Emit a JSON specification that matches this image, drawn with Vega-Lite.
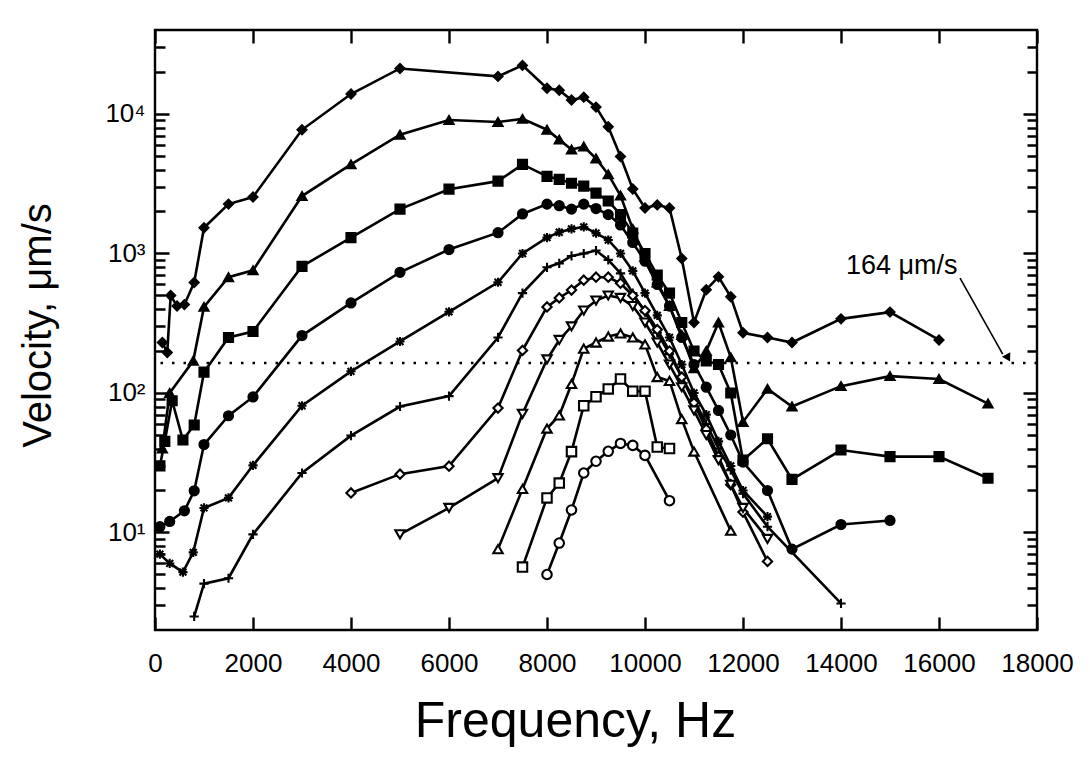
{
  "$schema": "https://vega.github.io/schema/vega-lite/v6.json",
  "width": 882,
  "height": 600,
  "autosize": "none",
  "padding": {"left": 155, "top": 30, "right": 53, "bottom": 134},
  "background": "white",
  "config": {
    "view": {"stroke": "black", "strokeWidth": 2.4},
    "font": "Liberation Sans",
    "axis": {"domain": false, "ticks": false, "tickSize": 0, "gridColor": "black", "gridWidth": 2.4, "gridOpacity": 1, "labelColor": "black", "titleColor": "black", "labelFont": "Liberation Sans", "titleFont": "Liberation Sans", "titleFontWeight": "normal"}
  },
  "datasets": {
    "curves": [
      {"s": "s1", "f": 150, "v": 230}, {"s": "s1", "f": 250, "v": 195}, {"s": "s1", "f": 320, "v": 500}, {"s": "s1", "f": 450, "v": 420}, {"s": "s1", "f": 600, "v": 430}, {"s": "s1", "f": 800, "v": 620}, {"s": "s1", "f": 1000, "v": 1530}, {"s": "s1", "f": 1500, "v": 2260}, {"s": "s1", "f": 2000, "v": 2540}, {"s": "s1", "f": 3000, "v": 7700}, {"s": "s1", "f": 4000, "v": 13900}, {"s": "s1", "f": 5000, "v": 21200}, {"s": "s1", "f": 7000, "v": 18600}, {"s": "s1", "f": 7500, "v": 22300}, {"s": "s1", "f": 8000, "v": 15300}, {"s": "s1", "f": 8250, "v": 14800}, {"s": "s1", "f": 8500, "v": 12600}, {"s": "s1", "f": 8750, "v": 13200}, {"s": "s1", "f": 9000, "v": 11200}, {"s": "s1", "f": 9250, "v": 8100}, {"s": "s1", "f": 9500, "v": 4950}, {"s": "s1", "f": 9750, "v": 2900}, {"s": "s1", "f": 10000, "v": 2120}, {"s": "s1", "f": 10250, "v": 2230}, {"s": "s1", "f": 10500, "v": 2120}, {"s": "s1", "f": 10750, "v": 920}, {"s": "s1", "f": 11000, "v": 320}, {"s": "s1", "f": 11250, "v": 550}, {"s": "s1", "f": 11500, "v": 680}, {"s": "s1", "f": 11750, "v": 490}, {"s": "s1", "f": 12000, "v": 270}, {"s": "s1", "f": 12500, "v": 250}, {"s": "s1", "f": 13000, "v": 230}, {"s": "s1", "f": 14000, "v": 340}, {"s": "s1", "f": 15000, "v": 380}, {"s": "s1", "f": 16000, "v": 240},
      {"s": "s2", "f": 150, "v": 40}, {"s": "s2", "f": 300, "v": 100}, {"s": "s2", "f": 780, "v": 170}, {"s": "s2", "f": 1000, "v": 414}, {"s": "s2", "f": 1500, "v": 676}, {"s": "s2", "f": 2000, "v": 757}, {"s": "s2", "f": 3000, "v": 2580}, {"s": "s2", "f": 4000, "v": 4350}, {"s": "s2", "f": 5000, "v": 7100}, {"s": "s2", "f": 6000, "v": 9060}, {"s": "s2", "f": 7000, "v": 8770}, {"s": "s2", "f": 7500, "v": 9220}, {"s": "s2", "f": 8000, "v": 7710}, {"s": "s2", "f": 8250, "v": 6550}, {"s": "s2", "f": 8500, "v": 5560}, {"s": "s2", "f": 8750, "v": 5840}, {"s": "s2", "f": 9000, "v": 4800}, {"s": "s2", "f": 9250, "v": 3690}, {"s": "s2", "f": 9500, "v": 2600}, {"s": "s2", "f": 9750, "v": 1500}, {"s": "s2", "f": 10000, "v": 950}, {"s": "s2", "f": 10250, "v": 620}, {"s": "s2", "f": 10500, "v": 420}, {"s": "s2", "f": 10750, "v": 260}, {"s": "s2", "f": 11000, "v": 150}, {"s": "s2", "f": 11250, "v": 200}, {"s": "s2", "f": 11500, "v": 320}, {"s": "s2", "f": 11750, "v": 180}, {"s": "s2", "f": 12000, "v": 62}, {"s": "s2", "f": 12500, "v": 107}, {"s": "s2", "f": 13000, "v": 80}, {"s": "s2", "f": 14000, "v": 112}, {"s": "s2", "f": 15000, "v": 132}, {"s": "s2", "f": 16000, "v": 126}, {"s": "s2", "f": 17000, "v": 84},
      {"s": "s3", "f": 100, "v": 30}, {"s": "s3", "f": 200, "v": 45}, {"s": "s3", "f": 350, "v": 88}, {"s": "s3", "f": 570, "v": 46}, {"s": "s3", "f": 800, "v": 59}, {"s": "s3", "f": 1000, "v": 141}, {"s": "s3", "f": 1500, "v": 250}, {"s": "s3", "f": 2000, "v": 276}, {"s": "s3", "f": 3000, "v": 809}, {"s": "s3", "f": 4000, "v": 1300}, {"s": "s3", "f": 5000, "v": 2080}, {"s": "s3", "f": 6000, "v": 2890}, {"s": "s3", "f": 7000, "v": 3300}, {"s": "s3", "f": 7500, "v": 4350}, {"s": "s3", "f": 8000, "v": 3570}, {"s": "s3", "f": 8250, "v": 3400}, {"s": "s3", "f": 8500, "v": 3190}, {"s": "s3", "f": 8750, "v": 3040}, {"s": "s3", "f": 9000, "v": 2710}, {"s": "s3", "f": 9250, "v": 2380}, {"s": "s3", "f": 9500, "v": 1900}, {"s": "s3", "f": 9750, "v": 1400}, {"s": "s3", "f": 10000, "v": 1000}, {"s": "s3", "f": 10250, "v": 700}, {"s": "s3", "f": 10500, "v": 520}, {"s": "s3", "f": 10750, "v": 320}, {"s": "s3", "f": 11000, "v": 200}, {"s": "s3", "f": 11250, "v": 170}, {"s": "s3", "f": 11500, "v": 160}, {"s": "s3", "f": 11750, "v": 100}, {"s": "s3", "f": 12000, "v": 33}, {"s": "s3", "f": 12500, "v": 47}, {"s": "s3", "f": 13000, "v": 24}, {"s": "s3", "f": 14000, "v": 39}, {"s": "s3", "f": 15000, "v": 35}, {"s": "s3", "f": 16000, "v": 35}, {"s": "s3", "f": 17000, "v": 24.5},
      {"s": "s4", "f": 100, "v": 11}, {"s": "s4", "f": 300, "v": 12}, {"s": "s4", "f": 600, "v": 14.3}, {"s": "s4", "f": 800, "v": 19.9}, {"s": "s4", "f": 1000, "v": 42.7}, {"s": "s4", "f": 1500, "v": 68.7}, {"s": "s4", "f": 2000, "v": 93.7}, {"s": "s4", "f": 3000, "v": 258}, {"s": "s4", "f": 4000, "v": 442}, {"s": "s4", "f": 5000, "v": 733}, {"s": "s4", "f": 6000, "v": 1067}, {"s": "s4", "f": 7000, "v": 1410}, {"s": "s4", "f": 7500, "v": 1920}, {"s": "s4", "f": 8000, "v": 2260}, {"s": "s4", "f": 8250, "v": 2200}, {"s": "s4", "f": 8500, "v": 2080}, {"s": "s4", "f": 8750, "v": 2260}, {"s": "s4", "f": 9000, "v": 2100}, {"s": "s4", "f": 9250, "v": 1900}, {"s": "s4", "f": 9500, "v": 1600}, {"s": "s4", "f": 9750, "v": 1200}, {"s": "s4", "f": 10000, "v": 880}, {"s": "s4", "f": 10250, "v": 600}, {"s": "s4", "f": 10500, "v": 420}, {"s": "s4", "f": 10750, "v": 250}, {"s": "s4", "f": 11000, "v": 160}, {"s": "s4", "f": 11250, "v": 110}, {"s": "s4", "f": 11500, "v": 75}, {"s": "s4", "f": 11750, "v": 50}, {"s": "s4", "f": 12000, "v": 32}, {"s": "s4", "f": 12500, "v": 20}, {"s": "s4", "f": 13000, "v": 7.6}, {"s": "s4", "f": 14000, "v": 11.4}, {"s": "s4", "f": 15000, "v": 12.2},
      {"s": "s5", "f": 100, "v": 7}, {"s": "s5", "f": 300, "v": 6}, {"s": "s5", "f": 570, "v": 5.2}, {"s": "s5", "f": 780, "v": 7.2}, {"s": "s5", "f": 1000, "v": 15}, {"s": "s5", "f": 1500, "v": 17.7}, {"s": "s5", "f": 2000, "v": 30.3}, {"s": "s5", "f": 3000, "v": 81}, {"s": "s5", "f": 4000, "v": 143}, {"s": "s5", "f": 5000, "v": 234}, {"s": "s5", "f": 6000, "v": 382}, {"s": "s5", "f": 7000, "v": 622}, {"s": "s5", "f": 7500, "v": 1000}, {"s": "s5", "f": 8000, "v": 1300}, {"s": "s5", "f": 8250, "v": 1420}, {"s": "s5", "f": 8500, "v": 1500}, {"s": "s5", "f": 8750, "v": 1550}, {"s": "s5", "f": 9000, "v": 1400}, {"s": "s5", "f": 9250, "v": 1250}, {"s": "s5", "f": 9500, "v": 1000}, {"s": "s5", "f": 9750, "v": 750}, {"s": "s5", "f": 10000, "v": 520}, {"s": "s5", "f": 10250, "v": 360}, {"s": "s5", "f": 10500, "v": 250}, {"s": "s5", "f": 10750, "v": 160}, {"s": "s5", "f": 11000, "v": 100}, {"s": "s5", "f": 11250, "v": 70}, {"s": "s5", "f": 11500, "v": 45}, {"s": "s5", "f": 11750, "v": 30}, {"s": "s5", "f": 12000, "v": 20}, {"s": "s5", "f": 12500, "v": 13},
      {"s": "s6", "f": 800, "v": 2.5}, {"s": "s6", "f": 1000, "v": 4.3}, {"s": "s6", "f": 1500, "v": 4.7}, {"s": "s6", "f": 2000, "v": 9.7}, {"s": "s6", "f": 3000, "v": 26.7}, {"s": "s6", "f": 4000, "v": 49.5}, {"s": "s6", "f": 5000, "v": 80}, {"s": "s6", "f": 6000, "v": 95}, {"s": "s6", "f": 7000, "v": 250}, {"s": "s6", "f": 7500, "v": 520}, {"s": "s6", "f": 8000, "v": 796}, {"s": "s6", "f": 8250, "v": 850}, {"s": "s6", "f": 8500, "v": 960}, {"s": "s6", "f": 8750, "v": 1000}, {"s": "s6", "f": 9000, "v": 1050}, {"s": "s6", "f": 9250, "v": 900}, {"s": "s6", "f": 9500, "v": 720}, {"s": "s6", "f": 9750, "v": 520}, {"s": "s6", "f": 10000, "v": 380}, {"s": "s6", "f": 10250, "v": 270}, {"s": "s6", "f": 10500, "v": 190}, {"s": "s6", "f": 10750, "v": 130}, {"s": "s6", "f": 11000, "v": 90}, {"s": "s6", "f": 11250, "v": 60}, {"s": "s6", "f": 11500, "v": 40}, {"s": "s6", "f": 11750, "v": 28}, {"s": "s6", "f": 12000, "v": 19}, {"s": "s6", "f": 12500, "v": 11}, {"s": "s6", "f": 14000, "v": 3.1},
      {"s": "s7", "f": 4000, "v": 19.2}, {"s": "s7", "f": 5000, "v": 26.2}, {"s": "s7", "f": 6000, "v": 29.9}, {"s": "s7", "f": 7000, "v": 78}, {"s": "s7", "f": 7500, "v": 202}, {"s": "s7", "f": 8000, "v": 414}, {"s": "s7", "f": 8250, "v": 480}, {"s": "s7", "f": 8500, "v": 547}, {"s": "s7", "f": 8750, "v": 644}, {"s": "s7", "f": 9000, "v": 676}, {"s": "s7", "f": 9250, "v": 676}, {"s": "s7", "f": 9500, "v": 612}, {"s": "s7", "f": 9750, "v": 500}, {"s": "s7", "f": 10000, "v": 390}, {"s": "s7", "f": 10250, "v": 285}, {"s": "s7", "f": 10500, "v": 200}, {"s": "s7", "f": 10750, "v": 130}, {"s": "s7", "f": 11000, "v": 85}, {"s": "s7", "f": 11250, "v": 55}, {"s": "s7", "f": 11500, "v": 35}, {"s": "s7", "f": 11750, "v": 22}, {"s": "s7", "f": 12000, "v": 14}, {"s": "s7", "f": 12500, "v": 6.2},
      {"s": "s8", "f": 5000, "v": 9.7}, {"s": "s8", "f": 6000, "v": 15}, {"s": "s8", "f": 7000, "v": 24.5}, {"s": "s8", "f": 7500, "v": 71}, {"s": "s8", "f": 8000, "v": 174}, {"s": "s8", "f": 8250, "v": 240}, {"s": "s8", "f": 8500, "v": 300}, {"s": "s8", "f": 8750, "v": 390}, {"s": "s8", "f": 9000, "v": 460}, {"s": "s8", "f": 9250, "v": 500}, {"s": "s8", "f": 9500, "v": 480}, {"s": "s8", "f": 9750, "v": 420}, {"s": "s8", "f": 10000, "v": 320}, {"s": "s8", "f": 10250, "v": 230}, {"s": "s8", "f": 10500, "v": 160}, {"s": "s8", "f": 10750, "v": 110}, {"s": "s8", "f": 11000, "v": 75}, {"s": "s8", "f": 11250, "v": 50}, {"s": "s8", "f": 11500, "v": 33}, {"s": "s8", "f": 11750, "v": 22}, {"s": "s8", "f": 12000, "v": 15}, {"s": "s8", "f": 12500, "v": 9},
      {"s": "s9", "f": 7000, "v": 7.6}, {"s": "s9", "f": 7500, "v": 20.5}, {"s": "s9", "f": 8000, "v": 55.6}, {"s": "s9", "f": 8250, "v": 69}, {"s": "s9", "f": 8500, "v": 116}, {"s": "s9", "f": 8750, "v": 208}, {"s": "s9", "f": 9000, "v": 230}, {"s": "s9", "f": 9250, "v": 254}, {"s": "s9", "f": 9500, "v": 267}, {"s": "s9", "f": 9750, "v": 250}, {"s": "s9", "f": 10000, "v": 223}, {"s": "s9", "f": 10250, "v": 130}, {"s": "s9", "f": 10500, "v": 122}, {"s": "s9", "f": 10750, "v": 65}, {"s": "s9", "f": 11000, "v": 38}, {"s": "s9", "f": 11750, "v": 10.3},
      {"s": "s10", "f": 7500, "v": 5.65}, {"s": "s10", "f": 8000, "v": 17.7}, {"s": "s10", "f": 8250, "v": 22.6}, {"s": "s10", "f": 8500, "v": 38}, {"s": "s10", "f": 8750, "v": 81}, {"s": "s10", "f": 9000, "v": 94}, {"s": "s10", "f": 9250, "v": 107}, {"s": "s10", "f": 9500, "v": 126}, {"s": "s10", "f": 9750, "v": 103}, {"s": "s10", "f": 10000, "v": 103}, {"s": "s10", "f": 10250, "v": 41}, {"s": "s10", "f": 10500, "v": 40},
      {"s": "s11", "f": 8000, "v": 5.0}, {"s": "s11", "f": 8250, "v": 8.4}, {"s": "s11", "f": 8500, "v": 14.5}, {"s": "s11", "f": 8750, "v": 26.7}, {"s": "s11", "f": 9000, "v": 32.4}, {"s": "s11", "f": 9250, "v": 38.2}, {"s": "s11", "f": 9500, "v": 43.5}, {"s": "s11", "f": 9750, "v": 42.1}, {"s": "s11", "f": 10000, "v": 35.7}, {"s": "s11", "f": 10500, "v": 16.9}
    ],
    "level": [{"v": 164}],
    "note": [{"f": 14100, "v": 820, "label": "164 μm/s"}],
    "arrow": [{"f": 16430, "v": 665}, {"f": 17300, "v": 190}],
    "head": [{"f": 17410, "v": 164}]
  },
  "resolve": {"axis": {"x": "independent", "y": "independent"}},
  "layer": [
    {
      "data": {"name": "curves"},
      "mark": {"type": "line", "color": "black", "strokeWidth": 2.6},
      "encoding": {
        "x": {"field": "f", "type": "quantitative", "scale": {"domain": [0, 18000], "nice": false, "zero": false},
          "axis": {"orient": "bottom", "title": "Frequency, Hz", "values": [0, 2000, 4000, 6000, 8000, 10000, 12000, 14000, 16000, 18000], "format": "d", "grid": true, "gridDash": [13, 574, 13, 0], "labelPadding": 20, "labelFontSize": 26, "labelFlush": false, "labelOverlap": false, "titleFontSize": 50, "titlePadding": 20, "titleX": 420}},
        "y": {"field": "v", "type": "quantitative", "scale": {"type": "log", "domain": [2, 40000], "nice": false},
          "axis": {"orient": "left", "title": "Velocity, μm/s", "values": [3, 4, 5, 6, 7, 8, 9, 10, 20, 30, 40, 50, 60, 70, 80, 90, 100, 200, 300, 400, 500, 600, 700, 800, 900, 1000, 2000, 3000, 4000, 5000, 6000, 7000, 8000, 9000, 10000, 20000, 30000],
            "labelExpr": "datum.value == 10 ? '10¹' : datum.value == 100 ? '10²' : datum.value == 1000 ? '10³' : datum.value == 10000 ? '10⁴' : ''",
            "grid": true,
            "gridDash": {"condition": {"test": "datum.value == 10 || datum.value == 100 || datum.value == 1000 || datum.value == 10000", "value": [14, 854, 14, 0]}, "value": [10, 862, 10, 0]},
            "labelPadding": 10, "labelFontSize": 26, "labelOverlap": false, "labelBound": false, "labelFlush": false, "titleFontSize": 40, "titlePadding": 46, "titleY": 295}},
        "detail": {"field": "s", "type": "nominal"}
      }
    },
    {
      "data": {"name": "curves"},
      "mark": {"type": "point", "filled": true, "stroke": "black", "strokeWidth": 2.1, "opacity": 1},
      "encoding": {
        "x": {"field": "f", "type": "quantitative", "axis": null},
        "y": {"field": "v", "type": "quantitative", "axis": null},
        "shape": {"field": "s", "type": "nominal", "legend": null, "scale": {"domain": ["s1", "s2", "s3", "s4", "s5", "s6", "s7", "s8", "s9", "s10", "s11"], "range": ["diamond", "triangle-up", "square", "circle", "M-1,0L1,0M0,-1L0,1M-0.75,-0.75L0.75,0.75M-0.75,0.75L0.75,-0.75", "M-1,0L1,0M0,-1L0,1", "diamond", "triangle-down", "triangle-up", "square", "circle"]}},
        "fill": {"field": "s", "type": "nominal", "legend": null, "scale": {"domain": ["s1", "s2", "s3", "s4", "s5", "s6", "s7", "s8", "s9", "s10", "s11"], "range": ["black", "black", "black", "black", "black", "black", "white", "white", "white", "white", "white"]}},
        "size": {"field": "s", "type": "nominal", "legend": null, "scale": {"domain": ["s1", "s2", "s3", "s4", "s5", "s6", "s7", "s8", "s9", "s10", "s11"], "range": [80, 90, 200, 150, 190, 160, 110, 150, 150, 170, 120]}}
      }
    },
    {
      "data": {"name": "level"},
      "mark": {"type": "rule", "color": "black", "strokeWidth": 2.6, "strokeDash": [2.5, 9]},
      "encoding": {"y": {"field": "v", "type": "quantitative", "axis": null}}
    },
    {
      "data": {"name": "note"},
      "mark": {"type": "text", "align": "left", "baseline": "middle", "fontSize": 27, "font": "Liberation Sans", "color": "black"},
      "encoding": {
        "x": {"field": "f", "type": "quantitative", "axis": null},
        "y": {"field": "v", "type": "quantitative", "axis": null},
        "text": {"field": "label"}
      }
    },
    {
      "data": {"name": "arrow"},
      "mark": {"type": "line", "color": "black", "strokeWidth": 1.6},
      "encoding": {
        "x": {"field": "f", "type": "quantitative", "axis": null},
        "y": {"field": "v", "type": "quantitative", "axis": null}
      }
    },
    {
      "data": {"name": "head"},
      "mark": {"type": "point", "shape": "triangle-down", "filled": true, "color": "black", "size": 90, "angle": 331, "opacity": 1, "yOffset": -5},
      "encoding": {
        "x": {"field": "f", "type": "quantitative", "axis": null},
        "y": {"field": "v", "type": "quantitative", "axis": null}
      }
    }
  ]
}
